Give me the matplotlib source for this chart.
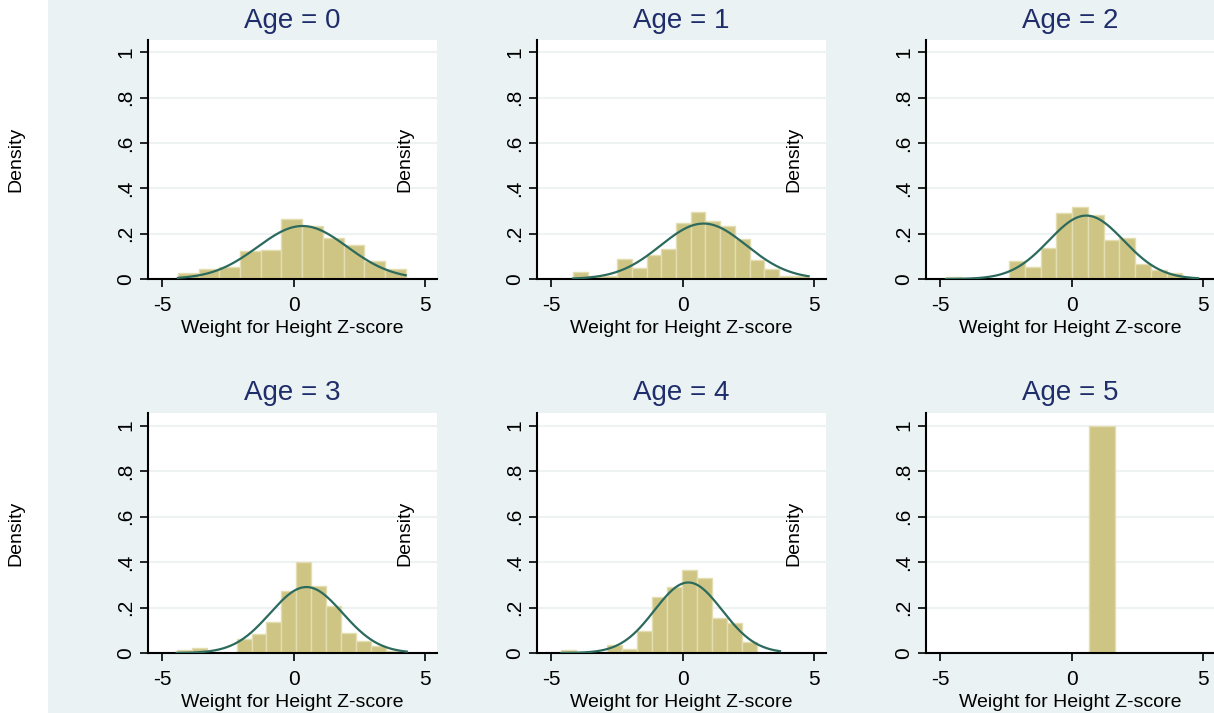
import numpy as np
import matplotlib.pyplot as plt
from matplotlib.patches import Rectangle

plt.rcParams['font.family'] = ['Liberation Sans', 'DejaVu Sans']

# Histogram bins per age panel (left edge of first bin, bin width, densities)
ages = [0, 1, 2, 3, 4, 5]
bin_start = [-4.41, -4.18, -4.79, -4.46, -4.62, 0.65]
bin_width = [0.788, 0.56, 0.60, 0.57, 0.572, 0.99]
density_age0 = [0.026, 0.046, 0.052, 0.123, 0.13, 0.264, 0.232, 0.181, 0.152, 0.08, 0.043]
density_age1 = [0.03, 0.012, 0.012, 0.087, 0.05, 0.108, 0.133, 0.246, 0.296, 0.254,
                0.232, 0.178, 0.084, 0.043, 0.014, 0.014]
density_age2 = [0.009, 0.0, 0.0, 0.0, 0.08, 0.051, 0.136, 0.293, 0.318, 0.282,
                0.172, 0.18, 0.067, 0.041, 0.026, 0.009]
density_age3 = [0.012, 0.024, 0.0, 0.0, 0.063, 0.083, 0.137, 0.273, 0.40, 0.295,
                0.206, 0.086, 0.052, 0.03, 0.01]
density_age4 = [0.012, 0.0, 0.0, 0.034, 0.016, 0.098, 0.246, 0.29, 0.364, 0.33,
                0.153, 0.133, 0.049]
density_age5 = [1.0]
densities = [density_age0, density_age1, density_age2, density_age3, density_age4, density_age5]

# Normal overlay parameters (mean, sd) and x-range; age 5 has none
norm_mean = [0.33, 0.79, 0.55, 0.48, 0.21, None]
norm_sd = [1.705, 1.63, 1.425, 1.376, 1.287, None]
curve_lo = [-4.41, -4.18, -4.79, -4.46, -4.62, None]
curve_hi = [4.26, 4.79, 4.81, 4.3, 3.7, None]

yticks = [0, 0.2, 0.4, 0.6, 0.8, 1]
ytick_labels = ['0', '.2', '.4', '.6', '.8', '1']
xticks = [-5, 0, 5]

W, H = 1214, 713
fig = plt.figure(figsize=(W / 100, H / 100), dpi=100)
fig.patch.set_facecolor('white')
fig.patches.append(Rectangle((48 / W, 0), 1 - 48 / W, 1, transform=fig.transFigure,
                             facecolor='#eaf2f3', edgecolor='none', zorder=-10))

col_left = [148, 537, 926]
row_top = [40, 413]
row_bottom = [279, 653]
pw = 289

bar_color = '#cec584'
line_color = '#2c6a5d'
title_color = '#1f2d6b'

for i, age in enumerate(ages):
    r, c = divmod(i, 3)
    left = col_left[c] / W
    bottom = 1 - row_bottom[r] / H
    height = (row_bottom[r] - row_top[r]) / H
    ax = fig.add_axes([left, bottom, pw / W, height])
    ax.set_facecolor('white')

    d = densities[i]
    lefts = [bin_start[i] + k * bin_width[i] for k in range(len(d))]
    ax.bar(lefts, d, width=bin_width[i], align='edge', color=bar_color,
           edgecolor='#e4ddb2', linewidth=1.0, zorder=2)

    if norm_mean[i] is not None:
        xs = np.linspace(curve_lo[i], curve_hi[i], 300)
        ys = np.exp(-0.5 * ((xs - norm_mean[i]) / norm_sd[i]) ** 2) / (norm_sd[i] * np.sqrt(2 * np.pi))
        ax.plot(xs, ys, color=line_color, lw=1.6, zorder=3)

    ax.set_xlim(-5.55, 5.45)
    ax.set_ylim(0, 1.055)
    ax.set_yticks(yticks)
    ax.set_yticklabels(ytick_labels, rotation=90, va='center')
    ax.set_xticks(xticks)
    ax.set_xticklabels(['-5', '0', '5'])
    ax.tick_params(axis='both', direction='out', length=6, width=1.2, labelsize=15,
                   color='black')
    ax.tick_params(axis='x', pad=6)
    ax.tick_params(axis='y', pad=3)
    ax.grid(axis='y', color='#edf2f3', lw=1.5, zorder=0)
    ax.set_axisbelow(True)
    for s in ['top', 'right']:
        ax.spines[s].set_visible(False)
    for s in ['left', 'bottom']:
        ax.spines[s].set_linewidth(1.5)
        ax.spines[s].set_color('black')

    ax.set_xlabel('Weight for Height Z-score', fontsize=14, labelpad=4)
    ax.set_ylabel('Density', fontsize=14)
    ax.yaxis.set_label_coords(-124 / pw, 0.5)
    ax.set_title(f'Age = {age}', fontsize=20, color=title_color, pad=9)

fig.savefig('out.png', dpi=100)
